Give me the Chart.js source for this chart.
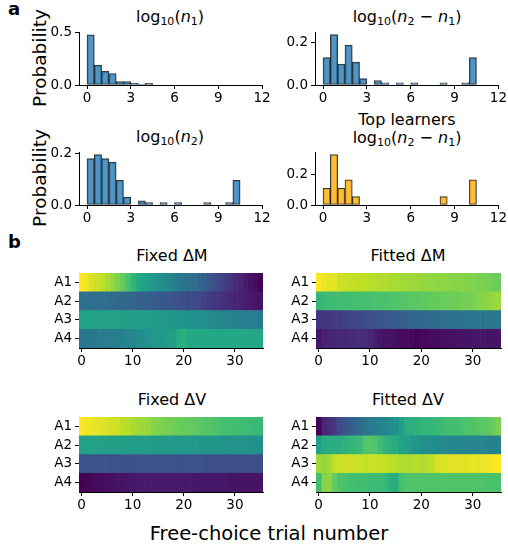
<!DOCTYPE html>
<html>
<head>
<meta charset="utf-8">
<script src="https://cdn.jsdelivr.net/npm/chart.js@4.4.1/dist/chart.umd.min.js"></script>
<style>
  body { margin: 0; background: #fff; font-family: "DejaVu Sans", sans-serif; }
  #fig { position: relative; width: 508px; height: 546px; overflow: hidden; }
  canvas { position: absolute; }
  .lbl { position: absolute; transform: translate(-50%, -50%); white-space: nowrap; color: #000; font-size: 16px; line-height: 1.1; text-align: center; }
  .lbl sub { font-size: 11px; vertical-align: -3px; }
  .ylbl { position: absolute; transform: translate(-50%, -50%) rotate(-90deg); white-space: nowrap; color: #000; font-size: 18.5px; }
  .panel { position: absolute; font-weight: bold; font-size: 18px; }
</style>
</head>
<body>
<div id="fig">
  <div class="panel" style="left:8px;top:-2px">a</div>
  <div class="panel" style="left:8px;top:231px">b</div>

  <div class="lbl" style="left:170px;top:18px">log<sub>10</sub>(<i>n</i><sub>1</sub>)</div>
  <div class="lbl" style="left:407px;top:18px">log<sub>10</sub>(<i>n</i><sub>2</sub> − <i>n</i><sub>1</sub>)</div>
  <div class="lbl" style="left:170px;top:138px">log<sub>10</sub>(<i>n</i><sub>2</sub>)</div>
  <div class="lbl" style="left:407px;top:130px">Top learners<br>log<sub>10</sub>(<i>n</i><sub>2</sub> − <i>n</i><sub>1</sub>)</div>
  <div class="ylbl" style="left:39px;top:58px">Probability</div>
  <div class="ylbl" style="left:39px;top:178px">Probability</div>

  <div class="lbl" style="left:172px;top:256px">Fixed ΔM</div>
  <div class="lbl" style="left:408px;top:256px">Fitted ΔM</div>
  <div class="lbl" style="left:172px;top:400px">Fixed ΔV</div>
  <div class="lbl" style="left:408px;top:400px">Fitted ΔV</div>
  <div class="lbl" style="left:269px;top:534px;font-size:19.5px">Free-choice trial number</div>

  <canvas id="h1" width="252" height="88" style="left:24px;top:21px"></canvas>
  <canvas id="h2" width="248" height="88" style="left:260px;top:21px"></canvas>
  <canvas id="h3" width="252" height="88" style="left:24px;top:141px"></canvas>
  <canvas id="h4" width="248" height="88" style="left:260px;top:141px"></canvas>

  <canvas id="m1" width="234" height="110" style="left:39px;top:262px"></canvas>
  <canvas id="m2" width="232" height="110" style="left:276px;top:262px"></canvas>
  <canvas id="m3" width="234" height="110" style="left:39px;top:406px"></canvas>
  <canvas id="m4" width="232" height="110" style="left:276px;top:406px"></canvas>
</div>
<script>
// ---- histogram data (bin lower edges, bin width 0.5) ----
const binStarts = [0, 0.5, 1, 1.5, 2, 2.5, 3, 3.5, 4, 4.5, 5, 5.5, 6, 6.5, 7, 7.5, 8, 8.5, 9, 9.5, 10];
const binWidth = 0.5;
const probN1 = [0.48, 0.19, 0.13, 0.11, 0.033, 0.033, 0.015, 0.009, 0.015, 0, 0, 0, 0, 0, 0, 0, 0, 0, 0, 0, 0];
const probN2minusN1 = [0.129, 0.237, 0.099, 0.188, 0.108, 0.030, 0, 0.021, 0.010, 0, 0.010, 0, 0.010, 0, 0, 0, 0.010, 0, 0, 0.010, 0.129];
const probN2 = [0.180, 0.195, 0.180, 0.166, 0.096, 0.030, 0, 0.016, 0.009, 0, 0.009, 0, 0.009, 0, 0, 0, 0.009, 0, 0, 0.009, 0.096];
const probTop = [0.11, 0.33, 0.11, 0.165, 0.055, 0, 0, 0, 0, 0, 0, 0, 0, 0, 0, 0, 0.055, 0, 0, 0, 0.165];
const histXTicks = [0, 3, 6, 9, 12];

// ---- heatmap data (viridis position per trial, rows A1..A4) ----
const rowLabels = ['A1', 'A2', 'A3', 'A4'];
const trials = [0,1,2,3,4,5,6,7,8,9,10,11,12,13,14,15,16,17,18,19,20,21,22,23,24,25,26,27,28,29,30,31,32,33,34,35];
const heatXTicks = [0, 10, 20, 30];

const fixedM_A1 = [1.00,0.97,0.94,0.92,0.90,0.87,0.84,0.80,0.76,0.71,0.66,0.61,0.58,0.55,0.52,0.50,0.48,0.46,0.43,0.41,0.39,0.37,0.35,0.33,0.30,0.27,0.24,0.21,0.18,0.15,0.12,0.10,0.07,0.05,0.03,0.00];
const fixedM_A2 = [0.37,0.37,0.36,0.36,0.36,0.35,0.35,0.34,0.34,0.33,0.32,0.31,0.30,0.30,0.29,0.28,0.27,0.27,0.26,0.25,0.24,0.23,0.22,0.21,0.19,0.17,0.16,0.15,0.13,0.12,0.10,0.09,0.08,0.07,0.06,0.05];
const fixedM_A3 = [0.58,0.58,0.58,0.58,0.58,0.57,0.57,0.57,0.56,0.56,0.56,0.55,0.55,0.55,0.54,0.54,0.53,0.53,0.52,0.52,0.51,0.50,0.50,0.49,0.48,0.47,0.47,0.46,0.45,0.45,0.44,0.43,0.43,0.42,0.42,0.41];
const fixedM_A4 = [0.40,0.40,0.40,0.41,0.41,0.42,0.42,0.43,0.44,0.45,0.46,0.48,0.49,0.50,0.52,0.53,0.54,0.55,0.56,0.62,0.63,0.60,0.60,0.60,0.60,0.60,0.60,0.60,0.60,0.60,0.60,0.60,0.60,0.60,0.60,0.60];

const fittedM_A1 = [1.00,0.97,0.96,0.96,0.92,0.92,0.91,0.91,0.90,0.90,0.89,0.89,0.88,0.88,0.87,0.87,0.86,0.86,0.85,0.85,0.84,0.84,0.84,0.83,0.83,0.83,0.82,0.82,0.82,0.81,0.81,0.80,0.80,0.79,0.78,0.77];
const fittedM_A2 = [0.66,0.67,0.68,0.68,0.69,0.69,0.69,0.70,0.70,0.70,0.70,0.71,0.71,0.71,0.72,0.72,0.73,0.73,0.74,0.74,0.75,0.75,0.76,0.76,0.77,0.77,0.78,0.78,0.79,0.79,0.80,0.81,0.82,0.83,0.84,0.85];
const fittedM_A3 = [0.15,0.16,0.16,0.17,0.18,0.19,0.20,0.21,0.22,0.23,0.24,0.25,0.26,0.27,0.28,0.29,0.30,0.31,0.32,0.33,0.33,0.34,0.35,0.35,0.36,0.36,0.37,0.37,0.38,0.38,0.39,0.39,0.39,0.40,0.40,0.40];
const fittedM_A4 = [0.06,0.09,0.10,0.10,0.11,0.11,0.12,0.12,0.13,0.13,0.10,0.08,0.06,0.05,0.05,0.04,0.03,0.03,0.02,0.01,0.02,0.02,0.03,0.03,0.04,0.04,0.04,0.05,0.05,0.05,0.06,0.06,0.06,0.05,0.05,0.05];

const fixedV_A1 = [1.00,0.98,0.97,0.96,0.95,0.94,0.93,0.92,0.90,0.89,0.87,0.86,0.85,0.84,0.82,0.81,0.80,0.79,0.78,0.77,0.76,0.76,0.75,0.74,0.73,0.73,0.72,0.71,0.70,0.70,0.69,0.69,0.68,0.68,0.67,0.67];
const fixedV_A2 = [0.57,0.57,0.57,0.57,0.56,0.56,0.56,0.56,0.56,0.55,0.55,0.55,0.55,0.55,0.54,0.54,0.54,0.54,0.53,0.53,0.53,0.53,0.53,0.52,0.52,0.52,0.52,0.52,0.51,0.51,0.51,0.51,0.51,0.50,0.50,0.50];
const fixedV_A3 = [0.26,0.26,0.26,0.26,0.26,0.25,0.25,0.25,0.25,0.25,0.25,0.25,0.25,0.25,0.25,0.25,0.25,0.25,0.25,0.25,0.25,0.25,0.25,0.25,0.24,0.24,0.24,0.24,0.24,0.24,0.24,0.24,0.24,0.24,0.24,0.24];
const fixedV_A4 = [0.00,0.01,0.02,0.03,0.03,0.04,0.04,0.05,0.05,0.06,0.06,0.07,0.07,0.07,0.07,0.07,0.07,0.07,0.07,0.07,0.07,0.07,0.06,0.06,0.06,0.06,0.06,0.06,0.06,0.05,0.05,0.05,0.05,0.05,0.05,0.05];

const fittedV_A1 = [0.00,0.10,0.13,0.16,0.22,0.26,0.29,0.32,0.35,0.38,0.41,0.42,0.44,0.46,0.48,0.50,0.55,0.62,0.63,0.64,0.65,0.65,0.66,0.67,0.68,0.69,0.69,0.70,0.71,0.72,0.72,0.73,0.74,0.75,0.77,0.80];
const fittedV_A2 = [0.57,0.61,0.62,0.62,0.62,0.64,0.65,0.66,0.67,0.72,0.73,0.72,0.68,0.65,0.63,0.62,0.58,0.56,0.53,0.52,0.50,0.49,0.48,0.48,0.47,0.47,0.46,0.46,0.46,0.45,0.45,0.45,0.45,0.44,0.44,0.44];
const fittedV_A3 = [0.86,0.84,0.86,0.91,0.92,0.92,0.93,0.92,0.92,0.91,0.92,0.92,0.91,0.91,0.90,0.89,0.88,0.88,0.88,0.89,0.88,0.89,0.90,0.94,0.95,0.95,0.96,0.96,0.96,0.96,0.97,0.96,0.97,0.98,1.00,1.00];
const fittedV_A4 = [0.70,0.82,0.83,0.76,0.72,0.71,0.70,0.70,0.69,0.69,0.68,0.68,0.68,0.66,0.63,0.62,0.70,0.72,0.72,0.72,0.72,0.72,0.72,0.72,0.72,0.72,0.72,0.72,0.72,0.72,0.72,0.72,0.72,0.71,0.71,0.71];

// viridis colormap anchors
const viridisStops = ['#440154','#482475','#414487','#355f8d','#2a788e','#21918c','#22a884','#44bf70','#7ad151','#bddf26','#fde725'];

function hexToRgb(h) {
    return [parseInt(h.slice(1, 3), 16), parseInt(h.slice(3, 5), 16), parseInt(h.slice(5, 7), 16)];
}
function viridis(t) {
    t = Math.max(0, Math.min(1, t));
    const pos = t * (viridisStops.length - 1);
    const i = Math.min(Math.floor(pos), viridisStops.length - 2);
    const f = pos - i;
    const a = hexToRgb(viridisStops[i]), b = hexToRgb(viridisStops[i + 1]);
    const c = a.map((v, k) => Math.round(v + (b[k] - v) * f));
    return `rgb(${c[0]},${c[1]},${c[2]})`;
}

const tickFont = { family: 'DejaVu Sans', size: 13.5 };
const axisGrid = { display: true, drawOnChartArea: false, color: '#000', lineWidth: 1, tickLength: 4 };
const axisBorder = { display: true, color: '#000', width: 1 };

function setTicks(values) {
    return scale => { scale.ticks = values.map(v => ({ value: v })); };
}

function drawHist(id, probs, ymax, yTicks, colour, rightPad) {
    const canvas = document.getElementById(id);
    const ctx = canvas.getContext('2d');
    const pts = [];
    binStarts.forEach((s, i) => {
        pts.push({ x: s + binWidth / 2, y: probs[i] > 0 ? probs[i] : null });
    });
    new Chart(ctx, {
        type: 'bar',
        data: {
            datasets: [{
                data: pts,
                backgroundColor: colour,
                borderColor: 'rgba(20,20,20,0.85)',
                borderWidth: 1,
                borderSkipped: false,
                barPercentage: 1,
                categoryPercentage: 1
            }]
        },
        options: {
            responsive: false,
            animation: false,
            layout: { padding: { top: 8, right: rightPad, left: 0, bottom: 0 } },
            plugins: { legend: { display: false }, tooltip: { enabled: false } },
            scales: {
                x: {
                    type: 'linear', min: -0.55, max: 12, offset: false,
                    grid: { ...axisGrid, offset: false }, border: axisBorder,
                    ticks: { font: tickFont, color: '#000', padding: 1, maxRotation: 0, autoSkip: false, callback: v => String(v) },
                    afterBuildTicks: setTicks(histXTicks),
                    afterFit: s => { s.height = 24; }
                },
                y: {
                    min: 0, max: ymax,
                    grid: axisGrid, border: axisBorder,
                    ticks: { font: tickFont, color: '#000', padding: 3, autoSkip: false, callback: v => v.toFixed(1) },
                    afterBuildTicks: setTicks(yTicks),
                    afterFit: s => { s.width = 55; }
                }
            }
        }
    });
}

function drawHeat(id, rows, rightPad) {
    const ctx = document.getElementById(id).getContext('2d');
    const datasets = trials.map(c => ({
        data: rowLabels.map(() => [c - 0.5, c + 0.5]),
        backgroundColor: rows.map(r => viridis(r[c])),
        borderWidth: 0,
        barPercentage: 1,
        categoryPercentage: 1,
        grouped: false
    }));
    new Chart(ctx, {
        type: 'bar',
        data: { labels: rowLabels, datasets: datasets },
        options: {
            indexAxis: 'y',
            responsive: false,
            animation: false,
            layout: { padding: { top: 6, right: rightPad, left: 0, bottom: 0 } },
            plugins: { legend: { display: false }, tooltip: { enabled: false } },
            scales: {
                x: {
                    type: 'linear', min: -0.5, max: 35.5, offset: false,
                    grid: axisGrid, border: axisBorder,
                    ticks: { font: tickFont, color: '#000', padding: 1, maxRotation: 0, autoSkip: false },
                    afterBuildTicks: setTicks(heatXTicks),
                    afterFit: s => { s.height = 24; }
                },
                y: {
                    type: 'category', offset: true,
                    grid: { ...axisGrid, offset: false }, border: axisBorder,
                    ticks: { font: tickFont, color: '#000', padding: 3, autoSkip: false },
                    afterFit: s => { s.width = 40; }
                }
            }
        }
    });
}

window.onload = () => {
    const blue = 'rgba(31,119,180,0.78)';
    const orange = 'rgba(255,170,0,0.78)';
    drawHist('h1', probN1, 0.505, [0, 0.5], blue, 14);
    drawHist('h2', probN2minusN1, 0.249, [0, 0.2], blue, 9);
    drawHist('h3', probN2, 0.205, [0, 0.2], blue, 14);
    drawHist('h4', probTop, 0.347, [0, 0.2], orange, 9);

    drawHeat('m1', [fixedM_A1, fixedM_A2, fixedM_A3, fixedM_A4], 10);
    drawHeat('m2', [fittedM_A1, fittedM_A2, fittedM_A3, fittedM_A4], 7);
    drawHeat('m3', [fixedV_A1, fixedV_A2, fixedV_A3, fixedV_A4], 10);
    drawHeat('m4', [fittedV_A1, fittedV_A2, fittedV_A3, fittedV_A4], 7);
};
</script>
</body>
</html>
